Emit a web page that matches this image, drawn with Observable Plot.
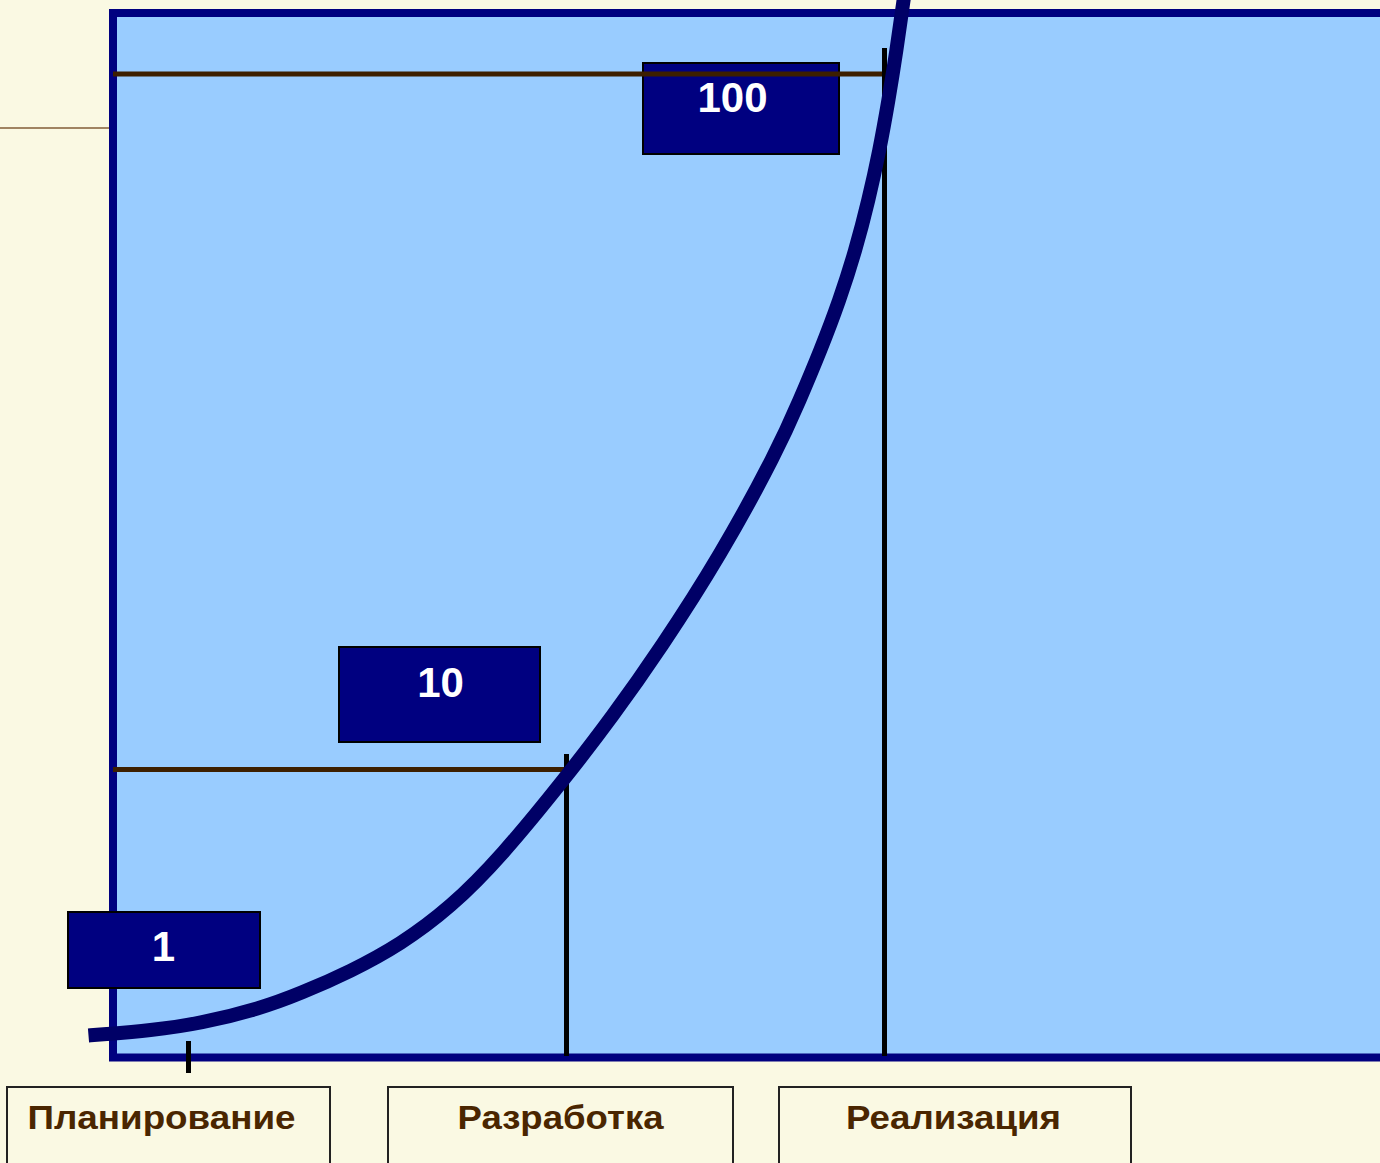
<!DOCTYPE html>
<html>
<head>
<meta charset="utf-8">
<script src="https://cdn.jsdelivr.net/npm/d3@7"></script>
<script src="https://cdn.jsdelivr.net/npm/@observablehq/plot@0.6"></script>
<style>
  html, body { margin: 0; padding: 0; background: #FAF9E3; }
  #chart svg { display: block; }
</style>
</head>
<body>
<div id="chart"></div>
<script>
// ---- Data (diagram units: 0..1380 horizontally, 0..1163 vertically, top-down) ----
// Cost-of-change curve
const curveX = [88, 100, 150, 200, 260, 300, 350, 400, 450, 500, 566, 612, 660, 720, 777, 799, 820, 839, 855, 868, 879, 888, 896, 903, 908];
const curveY = [1035, 1034, 1030, 1023, 1008, 993, 971, 944, 907, 857, 776, 716, 648, 555, 450, 400, 350, 300, 250, 200, 150, 100, 50, 0, -35];

// Relative cost labels
const costLabels = ["1", "10", "100"];
// Stage names
const stageNames = ["Планирование", "Разработка", "Реализация"];

// ---- Layout ----
const W = 1380, H = 1163;
const navy = "#000080", curveNavy = "#000066", brown = "#3D1F00", textBrown = "#4A2600", cream = "#FAF9E3";

const curve = curveX.map((x, i) => ({x, y: curveY[i]}));

const costBoxes = costLabels.map((t, i) => ({
  text: t,
  x1: [68, 339, 643][i], x2: [260, 540, 839][i],
  y1: [912, 647, 63][i],  y2: [988, 742, 154][i],
  tx: [163, 440, 732][i], ty: [947, 683, 98][i]
}));

const stageBoxes = stageNames.map((t, i) => ({
  text: t,
  x1: [7, 388, 779][i], x2: [330, 733, 1131][i],
  y1: 1087, y2: 1175,
  tx: [161, 560, 953][i], ty: 1118,
  len: [268, 206, 215][i]
}));

const chart = Plot.plot({
  width: W,
  height: H,
  margin: 0,
  x: {domain: [0, W], axis: null},
  y: {domain: [H, 0], axis: null},
  style: {background: cream, overflow: "hidden"},
  marks: [
    // blue panel
    Plot.rect([{x1: 113, x2: 1400, y1: 13, y2: 1057.5}], {
      x1: "x1", x2: "x2", y1: "y1", y2: "y2",
      fill: "#99CCFF", stroke: navy, strokeWidth: 8
    }),
    // faint line at left
    Plot.ruleY([127.5], {x1: 0, x2: 109, stroke: "#A08462", strokeWidth: 2}),
    // cost boxes
    Plot.rect(costBoxes, {
      x1: "x1", x2: "x2", y1: "y1", y2: "y2",
      fill: navy, stroke: "#000", strokeWidth: 2
    }),
    // brown level lines
    Plot.ruleY([73.5], {x1: 113, x2: 884, stroke: brown, strokeWidth: 5}),
    Plot.ruleY([769], {x1: 113, x2: 566, stroke: brown, strokeWidth: 5}),
    // black stage lines
    Plot.ruleX([566], {y1: 754, y2: 1056, stroke: "#000", strokeWidth: 5}),
    Plot.ruleX([884], {y1: 48, y2: 1056, stroke: "#000", strokeWidth: 5}),
    Plot.ruleX([188], {y1: 1041, y2: 1073, stroke: "#000", strokeWidth: 5}),
    // curve
    Plot.line(curve, {
      x: "x", y: "y", curve: "basis",
      stroke: curveNavy, strokeWidth: 14, strokeLinecap: "butt"
    }),
    // cost labels
    Plot.text(costBoxes, {
      x: "tx", y: "ty", text: "text",
      fill: "#fff", fontSize: 42, fontWeight: "bold",
      fontFamily: "Liberation Sans, Arial, sans-serif",
      textAnchor: "middle", lineAnchor: "middle"
    }),
    // stage boxes
    Plot.rect(stageBoxes, {
      x1: "x1", x2: "x2", y1: "y1", y2: "y2",
      fill: cream, stroke: "#222", strokeWidth: 2
    }),
    Plot.text(stageBoxes, {
      x: "tx", y: "ty", text: "text",
      fill: textBrown, fontSize: 33, fontWeight: "bold",
      fontFamily: "Liberation Sans, Arial, sans-serif",
      textAnchor: "middle", lineAnchor: "middle"
    })
  ]
});

// stretch stage names horizontally as in the original slide
const textGroups = chart.querySelectorAll('g[aria-label="text"]');
const stageGroup = textGroups[textGroups.length - 1];
stageGroup.querySelectorAll("text").forEach((t, i) => {
  t.setAttribute("textLength", stageBoxes[i].len);
  t.setAttribute("lengthAdjust", "spacingAndGlyphs");
});

document.getElementById("chart").appendChild(chart);
</script>
</body>
</html>
